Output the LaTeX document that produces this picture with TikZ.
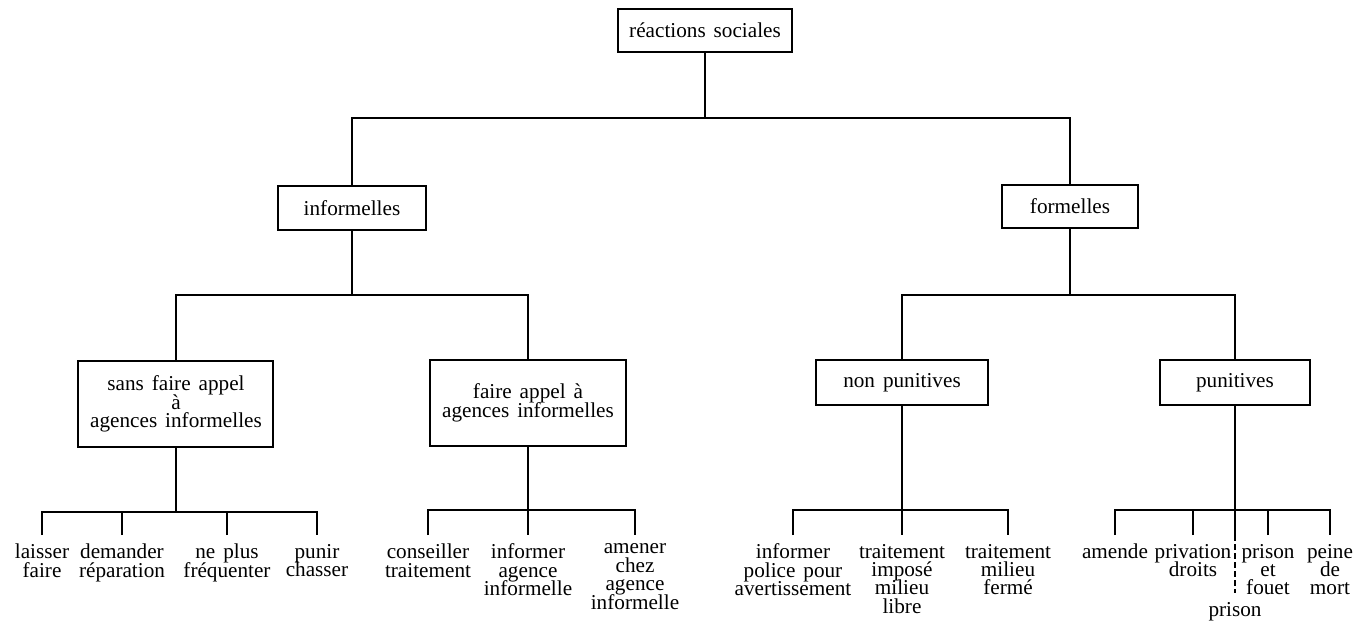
\documentclass[tikz,border=0pt]{standalone}
\usepackage{fontspec}
\setmainfont{Liberation Serif}[WordSpace=1.5]
\usetikzlibrary{positioning}
\lineskiplimit=-10pt

\begin{document}
\begin{tikzpicture}[
      box/.style={
        draw, line width=1pt, inner sep=2pt, outer sep=0pt,
        minimum height=22.5pt, align=center
      },
      leaf/.style={
        inner xsep=0pt, inner ysep=4.5pt, outer sep=0pt, align=center,
        execute at begin node=\vphantom{l}
      },
      font=\fontsize{10.6}{9.2}\selectfont,
      line width=1pt
      ]

  \useasboundingbox (-352.5pt,15.25pt) rectangle (331.5pt,-299.75pt);

  \node[box, minimum width=87pt, minimum height=21.5pt] (rs) {réactions sociales};
  \node[box, minimum width=74pt, minimum height=22pt, below=67pt of rs, xshift=-176.5pt] (inf) {informelles};
  \node[box, minimum width=68pt, minimum height=21.5pt, below=66.5pt of rs, xshift=182.5pt] (form) {formelles};
  \node[box, minimum width=97.5pt, minimum height=43pt, below=65.5pt of inf, xshift=-88pt] (sfa) {sans faire appel\\à\\agences informelles};
  \node[box, minimum width=98pt, minimum height=43pt, below=65pt of inf, xshift=88pt] (fa) {faire appel à\\agences informelles};
  \node[box, minimum width=86pt, below=66pt of form, xshift=-84pt] (np) {non punitives};
  \node[box, minimum width=75pt, below=66pt of form, xshift=82.5pt] (pun) {punitives};

  % leaves
  \node[leaf, below=44pt of sfa, xshift=-67pt] (laisser) {laisser\\faire};
  \node[leaf, below=44pt of sfa, xshift=-27pt] (demander) {demander\\réparation};
  \node[leaf, below=44pt of sfa, xshift=25.5pt] (neplus) {ne plus\\fréquenter};
  \node[leaf, below=44pt of sfa, xshift=70.5pt] (punir) {punir\\chasser};
  \node[leaf, below=44.5pt of fa, xshift=-50pt] (conseiller) {conseiller\\traitement};
  \node[leaf, below=44.5pt of fa] (informer) {informer\\agence\\informelle};
  \node[leaf, below=44.5pt of fa, xshift=53.5pt] (amener) {amener\\chez\\agence\\informelle};
  \node[leaf, below=65pt of np, xshift=-54.5pt] (police) {informer\\police pour\\avertissement};
  \node[leaf, below=65pt of np] (impose) {traitement\\imposé\\milieu\\libre};
  \node[leaf, below=65pt of np, xshift=53pt] (ferme) {traitement\\milieu\\fermé};
  \node[leaf, below=65pt of pun, xshift=-60pt] (amende) {amende};
  \node[leaf, below=65pt of pun, xshift=-21pt] (privation) {privation\\droits};
  \node[leaf, below=94pt of pun] (prison) {prison};
  \node[leaf, below=65pt of pun, xshift=16.5pt] (fouet) {prison\\et\\fouet};
  \node[leaf, below=65pt of pun, xshift=47.5pt] (mort) {peine\\de\\mort};

  % Connect the nodes
  \draw (rs.south) -- ++(0,-33pt) coordinate (rsbar);
  \draw (inf.north) |- (rsbar) -| (form.north);
  \draw (inf.south) -- ++(0,-32.5pt) coordinate (infbar);
  \draw (sfa.north) |- (infbar) -| (fa.north);
  \draw (form.south) -- ++(0,-33.5pt) coordinate (formbar);
  \draw (np.north) |- (formbar) -| (pun.north);

  \draw (sfa.south) -- ++(0,-32.5pt) coordinate (sfabar);
  \draw (laisser.north) |- (sfabar) -| (punir.north);
  \draw (demander.north) -- (demander.north |- sfabar);
  \draw (neplus.north) -- (neplus.north |- sfabar);

  \draw (fa.south) -- ++(0,-32pt) coordinate (fabar) -- (informer.north);
  \draw (conseiller.north) |- (fabar) -| (amener.north);

  \draw (np.south) -- ++(0,-52.5pt) coordinate (npbar) -- (impose.north);
  \draw (police.north) |- (npbar) -| (ferme.north);

  \draw (pun.south) -- ++(0,-52.5pt) coordinate (punbar) -- ++(0,-12.5pt) coordinate (punend);
  \draw (amende.north) |- (punbar) -| (mort.north);
  \draw (privation.north) -- (privation.north |- punbar);
  \draw (fouet.north) -- (fouet.north |- punbar);
  \draw[dash pattern=on 3pt off 1.5pt] (punend) -- (prison.north);

\end{tikzpicture}
\end{document}
